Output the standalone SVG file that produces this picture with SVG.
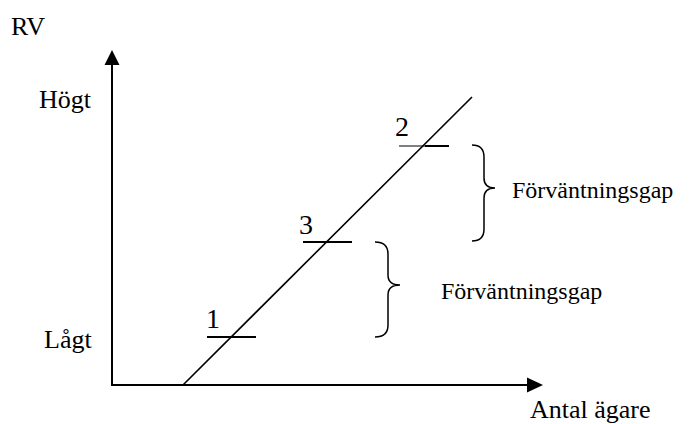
<svg xmlns="http://www.w3.org/2000/svg" width="695" height="424" viewBox="0 0 695 424">
<style>
text{font-family:"Liberation Serif","Times New Roman",serif;fill:#000}
.lbl{font-size:26px}
.gap{font-size:24px}
.num{font-size:28px}
.ax{stroke:#000;stroke-width:2;fill:none}
.tick{stroke:#000;stroke-width:2;fill:none}
.brace{stroke:#000;stroke-width:1.5;fill:none}
</style>
<rect width="695" height="424" fill="#fff"/>
<g id="axes">
<line class="ax" x1="112" y1="385" x2="112" y2="64"/>
<polygon points="112,50 104.5,65 119.5,65" fill="#000"/>
<line class="ax" x1="111" y1="385" x2="528" y2="385"/>
<polygon points="543,385 527,377.5 527,392.5" fill="#000"/>
</g>
<g id="connectors">
<line x1="183" y1="385" x2="472" y2="97" stroke="#000" stroke-width="1.6"/>
</g>
<g id="node-1">
<line class="tick" x1="207" y1="337" x2="256" y2="337"/>
<text class="num" x="206" y="328">1</text>
</g>
<g id="node-3">
<line class="tick" x1="303" y1="242" x2="352" y2="242"/>
<text class="num" x="299" y="234">3</text>
</g>
<g id="node-2">
<line x1="399" y1="146" x2="425" y2="146" stroke="#000" stroke-width="1"/>
<line class="tick" x1="425" y1="146" x2="449" y2="146"/>
<text class="num" x="395" y="136">2</text>
</g>
<g id="gap-upper">
<path class="brace" d="M472,145 Q484,145 484,157 L484,178 Q484,188 495,188 Q484,188 484,198 L484,229 Q484,241 472,241"/>
<text class="gap" x="512" y="198">Förväntningsgap</text>
</g>
<g id="gap-lower">
<path class="brace" d="M375,242 Q388,242 388,254 L388,275 Q388,285 400,285 Q388,285 388,295 L388,325 Q388,337 375,337"/>
<text class="gap" x="441" y="299">Förväntningsgap</text>
</g>
<g id="labels">
<text class="lbl" x="11" y="35">RV</text>
<text class="lbl" x="39" y="108">Högt</text>
<text class="lbl" x="44" y="348">Lågt</text>
<text class="lbl" x="530" y="418">Antal ägare</text>
</g>
</svg>
